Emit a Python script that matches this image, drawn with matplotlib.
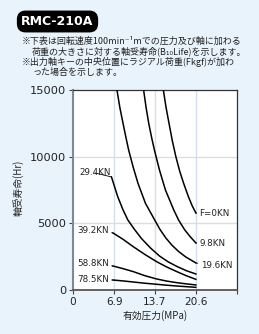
import matplotlib.pyplot as plt

plt.rcParams['font.family'] = ['Noto Sans CJK JP', 'DejaVu Sans']

# 荷重ごとの曲線 (圧力 MPa, 軸受寿命 Hr) — 図から読み取り
load_labels = ['F=0KN', '9.8KN', '19.6KN', '29.4KN', '39.2KN', '58.8KN', '78.5KN']

p_f0 = [15.15, 15.6, 16.1, 16.65, 17.25, 17.9, 18.55, 19.35, 20.0, 20.6]
l_f0 = [15000, 13700, 12500, 11200, 10000, 8900, 8000, 7000, 6300, 5780]

p_98 = [11.84, 12.25, 12.7, 13.2, 13.65, 14.5, 15.5, 16.9, 17.7, 18.75, 19.65, 20.6]
l_98 = [15000, 13700, 12500, 11400, 10500, 9000, 7500, 6000, 5250, 4500, 4000, 3530]

p_196 = [7.37, 7.85, 8.38, 8.85, 9.33, 10.1, 10.9, 12.15, 13.7, 14.6, 15.6, 16.6, 17.7, 18.9, 20.6]
l_196 = [15000, 13700, 12520, 11500, 10500, 9200, 8000, 6500, 5250, 4530, 3880, 3360, 2890, 2480, 2030]

p_294 = [6.45, 7.5, 8.4, 9.2, 10.3, 11.5, 13.0, 14.5, 16.0, 17.5, 19.0, 20.6]
l_294 = [8480, 7000, 6000, 5250, 4550, 3850, 3150, 2550, 2100, 1750, 1450, 1200]

p_392 = [6.7, 8.4, 10.1, 12.0, 14.0, 15.7, 17.4, 19.0, 20.6]
l_392 = [4280, 3800, 3250, 2680, 2130, 1730, 1380, 1070, 800]

p_588 = [6.7, 8.4, 10.1, 12.0, 14.0, 15.7, 17.4, 19.0, 20.6]
l_588 = [1800, 1600, 1380, 1080, 830, 670, 550, 460, 380]

p_785 = [6.7, 8.4, 10.1, 12.0, 14.0, 15.7, 17.4, 19.0, 20.6]
l_785 = [750, 680, 600, 510, 430, 360, 300, 250, 200]

curves_p = [p_f0, p_98, p_196, p_294, p_392, p_588, p_785]
curves_l = [l_f0, l_98, l_196, l_294, l_392, l_588, l_785]

x_ticks = [0, 6.9, 13.7, 20.6, 27.5]
x_ticklabels = ['0', '6.9', '13.7', '20.6', '']
y_ticks = [0, 5000, 10000, 15000]

bg = '#e9f3fc'
fig = plt.figure(figsize=(2.59, 3.34), dpi=100, facecolor=bg)
ax = fig.add_axes([73/259, 1-290/334, 164/259, 200/334])
ax.set_facecolor('white')

for p, l in zip(curves_p, curves_l):
    ax.plot(p, l, color='black', lw=1.1, zorder=3, solid_joinstyle='round')

ax.set_xlim(0, 27.5)
ax.set_ylim(0, 15000)
ax.set_xticks(x_ticks)
ax.set_xticklabels(x_ticklabels, family='DejaVu Sans', fontsize=7.6, color='#222222')
ax.set_yticks(y_ticks)
ax.set_yticklabels([str(v) for v in y_ticks], family='DejaVu Sans', fontsize=8.2, color='#222222')
ax.tick_params(length=3, width=0.8, pad=2, color='#444444')

for v in [6.9, 13.7, 20.6]:
    ax.axvline(v, color='#d3dfea', lw=1.0, zorder=1)
for v in [5000, 10000]:
    ax.axhline(v, color='#d3dfea', lw=1.0, zorder=1)

ax.spines['left'].set_color('#7d8996')
ax.spines['left'].set_linewidth(1.5)
ax.spines['bottom'].set_color('#555555')
ax.spines['bottom'].set_linewidth(1.3)
ax.spines['top'].set_color('#333333')
ax.spines['top'].set_linewidth(0.9)
ax.spines['right'].set_color('#333333')
ax.spines['right'].set_linewidth(0.9)

lab_kw = dict(fontsize=6.3, family='DejaVu Sans', color='#222222', va='center',
              arrowprops=dict(arrowstyle='-', lw=0.6, color='black',
                              shrinkA=0, shrinkB=0))

# 右側のラベル
ax.annotate(load_labels[0], xy=(p_f0[-1], l_f0[-1]), xytext=(21.2, 5700), ha='left', **lab_kw)
ax.annotate(load_labels[1], xy=(p_98[-1], l_98[-1]), xytext=(21.2, 3480), ha='left', **lab_kw)
ax.annotate(load_labels[2], xy=(p_196[-1], l_196[-1]), xytext=(21.4, 1820), ha='left', **lab_kw)

# 左側のラベル
ax.annotate(load_labels[3], xy=(p_294[0], l_294[0]), xytext=(6.3, 8780), ha='right', **lab_kw)
ax.annotate(load_labels[4], xy=(p_392[0], l_392[0]), xytext=(6.0, 4450), ha='right', **lab_kw)
ax.annotate(load_labels[5], xy=(p_588[0], l_588[0]), xytext=(6.0, 1950), ha='right', **lab_kw)
ax.annotate(load_labels[6], xy=(p_785[0], l_785[0]), xytext=(6.0, 750), ha='right', **lab_kw)

ax.set_xlabel('有効圧力(MPa)', fontsize=7, color='#222222', labelpad=2)
fig.text(18/259, 1-188/334, '軸受寿命(Hr)', rotation=90, fontsize=7,
         color='#222222', ha='center', va='center')

# タイトル
fig.text(57.5/259, 1-21.5/334, 'RMC-210A', family='DejaVu Sans', fontweight='bold',
         fontsize=9, color='white', ha='center', va='center',
         bbox=dict(boxstyle='round,pad=0.3,rounding_size=0.65', fc='black', ec='black'))

notes = [
    (22, 41, '※下表は回転速度100min⁻¹mでの圧力及び軸に加わる'),
    (32, 51.5, '荷重の大きさに対する軸受寿命(B₁₀Life)を示します。'),
    (22, 62, '※出力軸キーの中央位置にラジアル荷重(Fkgf)が加わ'),
    (32, 72.5, 'った場合を示します。'),
]
for x, y, t in notes:
    fig.text(x/259, 1-y/334, t, fontsize=6.5, color='#222222', ha='left', va='center')

fig.savefig('out.png', dpi=100, facecolor=bg)
